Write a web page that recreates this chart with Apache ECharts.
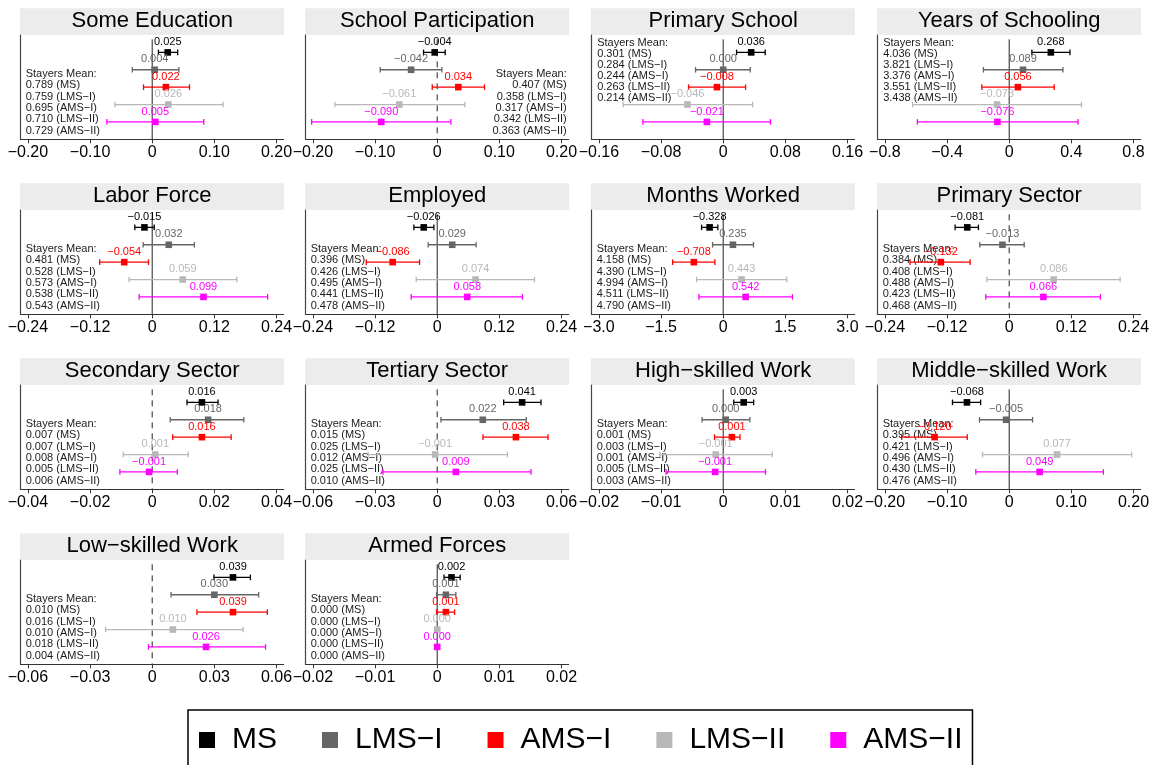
<!DOCTYPE html>
<html>
<head>
<meta charset="utf-8">
<script src="https://cdn.jsdelivr.net/npm/echarts@6/dist/echarts.min.js"></script>
<style>
html,body{margin:0;padding:0;background:#fff;}
#chart{width:1156px;height:765px;}
</style>
</head>
<body>
<div id="chart"></div>
<script>
// ---------------- DATA ----------------
const panelTitles = ['Some Education','School Participation','Primary School','Years of Schooling',
  'Labor Force','Employed','Months Worked','Primary Sector',
  'Secondary Sector','Tertiary Sector','High\u2212skilled Work','Middle\u2212skilled Work',
  'Low\u2212skilled Work','Armed Forces'];
const groups = ['MS','LMS\u2212I','AMS\u2212I','LMS\u2212II','AMS\u2212II'];

const estimates = [
  [0.025, 0.004, 0.022, 0.026, 0.005],
  [-0.004, -0.042, 0.034, -0.061, -0.090],
  [0.036, 0.000, -0.008, -0.046, -0.021],
  [0.268, 0.089, 0.056, -0.078, -0.076],
  [-0.015, 0.032, -0.054, 0.059, 0.099],
  [-0.026, 0.029, -0.086, 0.074, 0.058],
  [-0.328, 0.235, -0.708, 0.443, 0.542],
  [-0.081, -0.013, -0.132, 0.086, 0.066],
  [0.016, 0.018, 0.016, 0.001, -0.001],
  [0.041, 0.022, 0.038, -0.001, 0.009],
  [0.0033, 0.0004, 0.0014, -0.0012, -0.0013],
  [-0.068, -0.005, -0.120, 0.077, 0.049],
  [0.039, 0.030, 0.039, 0.010, 0.026],
  [0.0023, 0.0014, 0.0014, 0.0000, 0.0000]
];
const ciLower = [
  [0.010, -0.032, -0.014, -0.060, -0.073],
  [-0.022, -0.0917, -0.008, -0.1646, -0.202],
  [0.0172, -0.0356, -0.0446, -0.1288, -0.1034],
  [0.146, -0.166, -0.176, -0.622, -0.591],
  [-0.0336, -0.0174, -0.1014, -0.0446, -0.0252],
  [-0.045, -0.0174, -0.137, -0.0405, -0.0502],
  [-0.522, -0.257, -1.221, -0.643, -0.586],
  [-0.1045, -0.0568, -0.1916, -0.0432, -0.0452],
  [0.0112, 0.0058, 0.0066, -0.0093, -0.0104],
  [0.0321, 0.0018, 0.0221, -0.0333, -0.0262],
  [0.0017, -0.0034, -0.0014, -0.0102, -0.0092],
  [-0.0913, -0.0478, -0.1731, -0.043, -0.0537],
  [0.0298, 0.0091, 0.0216, -0.0225, -0.0018],
  [0.0011, -0.0001, -0.0001, -0.0002, -0.0002]
];
const ciUpper = [
  [0.041, 0.043, 0.060, 0.114, 0.083],
  [0.0129, 0.0075, 0.0761, 0.0445, 0.022],
  [0.0541, 0.0348, 0.0288, 0.0378, 0.0609],
  [0.391, 0.346, 0.290, 0.465, 0.443],
  [0.0039, 0.0814, -0.0071, 0.1634, 0.2229],
  [-0.0064, 0.0752, -0.0341, 0.1878, 0.1646],
  [-0.129, 0.731, -0.201, 1.534, 1.671],
  [-0.0594, 0.029, -0.0755, 0.2142, 0.1761],
  [0.0212, 0.0295, 0.0254, 0.0116, 0.0081],
  [0.0501, 0.043, 0.0535, 0.0339, 0.0453],
  [0.0049, 0.0043, 0.0027, 0.0079, 0.0068],
  [-0.046, 0.0376, -0.0675, 0.197, 0.1516],
  [0.0474, 0.0514, 0.0556, 0.0439, 0.0547],
  [0.0037, 0.0030, 0.0028, 0.0002, 0.0002]
];
const stayersMeans = [
  [0.789, 0.759, 0.695, 0.710, 0.729],
  [0.407, 0.358, 0.317, 0.342, 0.363],
  [0.301, 0.284, 0.244, 0.263, 0.214],
  [4.036, 3.821, 3.376, 3.551, 3.438],
  [0.481, 0.528, 0.573, 0.538, 0.543],
  [0.396, 0.426, 0.495, 0.441, 0.478],
  [4.158, 4.390, 4.994, 4.511, 4.790],
  [0.384, 0.408, 0.488, 0.423, 0.468],
  [0.007, 0.007, 0.008, 0.005, 0.006],
  [0.015, 0.025, 0.012, 0.025, 0.010],
  [0.001, 0.003, 0.001, 0.005, 0.003],
  [0.395, 0.421, 0.496, 0.430, 0.476],
  [0.010, 0.016, 0.010, 0.018, 0.004],
  [0.000, 0.000, 0.000, 0.000, 0.000]
];
const axisLimits = [0.20, 0.20, 0.16, 0.8, 0.24, 0.24, 3.0, 0.24, 0.04, 0.06, 0.02, 0.20, 0.06, 0.02];
const tickLabels = [
  ['\u22120.20','\u22120.10','0','0.10','0.20'],
  ['\u22120.20','\u22120.10','0','0.10','0.20'],
  ['\u22120.16','\u22120.08','0','0.08','0.16'],
  ['\u22120.8','\u22120.4','0','0.4','0.8'],
  ['\u22120.24','\u22120.12','0','0.12','0.24'],
  ['\u22120.24','\u22120.12','0','0.12','0.24'],
  ['\u22123.0','\u22121.5','0','1.5','3.0'],
  ['\u22120.24','\u22120.12','0','0.12','0.24'],
  ['\u22120.04','\u22120.02','0','0.02','0.04'],
  ['\u22120.06','\u22120.03','0','0.03','0.06'],
  ['\u22120.02','\u22120.01','0','0.01','0.02'],
  ['\u22120.20','\u22120.10','0','0.10','0.20'],
  ['\u22120.06','\u22120.03','0','0.03','0.06'],
  ['\u22120.02','\u22120.01','0','0.01','0.02']
];

// ---------------- STYLE / LAYOUT ----------------
const FONT = '"Liberation Sans", Arial, Helvetica, sans-serif';
const colors = ['#000000', '#666666', '#ff0000', '#b8b8b8', '#ff00ff'];
const stayersPos = ['lowLeft','right','topLeft','topLeft','lowLeft','lowLeft','lowLeft','lowLeft',
  'lowLeft','lowLeft','lowLeft','lowLeft','lowLeft','lowLeft'];
const dashedZero = [false,true,false,false,false,false,false,true,true,true,false,false,true,false];
const colLeft = [20.7, 305.7, 591.7, 877.7];
const rowTop = [0, 175, 350, 525];
const PW = 263, PH = 104.3, EXP = 1.058;

function fmt(v){ return (v < 0 ? '\u2212' : '') + Math.abs(v).toFixed(3); }

const grids = [], xAxes = [], yAxes = [], series = [], graphics = [];

panelTitles.forEach((title, i) => {
  const c = i % 4, r = Math.floor(i / 4);
  const left = colLeft[c], top = rowTop[r] + 35;
  const L = axisLimits[i];
  const ticks = [-L, -L/2, 0, L/2, L];
  const labs = tickLabels[i];
  grids.push({left: left, top: top, width: PW, height: PH, containLabel: false});
  xAxes.push({
    gridIndex: i, type: 'value', min: -L*EXP, max: L*EXP,
    axisLine: {show: true, onZero: false, lineStyle: {color: '#333', width: 1}},
    splitLine: {show: false},
    axisTick: {show: true, length: 4, customValues: ticks, lineStyle: {color: '#333'}},
    axisLabel: {show: true, customValues: ticks, margin: 5, fontSize: 16, fontFamily: FONT, color: '#000',
      formatter: function(v){
        let k = 0, best = Infinity;
        ticks.forEach((t, j) => { const d = Math.abs(t - v); if (d < best) { best = d; k = j; } });
        return labs[k];
      }}
  });
  yAxes.push({
    gridIndex: i, type: 'value', min: 0, max: 6, inverse: true,
    axisLine: {show: true, onZero: false, lineStyle: {color: '#444', width: 1.2}},
    axisTick: {show: false}, axisLabel: {show: false}, splitLine: {show: false}
  });
  // zero reference line
  series.push({
    type: 'line', xAxisIndex: i, yAxisIndex: i, data: [[0, 0.25], [0, 6]],
    symbol: 'none', silent: true, z: 1,
    lineStyle: {color: '#222', width: 1, type: dashedZero[i] ? [6, 5] : 'solid'}
  });
  groups.forEach((g, gi) => {
    const col = colors[gi];
    series.push({
      type: 'custom', name: g, xAxisIndex: i, yAxisIndex: i, z: 3 + gi,
      itemStyle: {color: col}, clip: false,
      encode: {x: [0, 1, 2], y: 3},
      data: [[estimates[i][gi], ciLower[i][gi], ciUpper[i][gi], gi + 1]],
      renderItem: function(params, api){
        const est = api.value(0), lo = api.value(1), hi = api.value(2), row = api.value(3);
        const p = api.coord([est, row]), a = api.coord([lo, row]), b = api.coord([hi, row]);
        const y = p[1];
        const lw = 1.3;
        return {type: 'group', children: [
          {type: 'line', shape: {x1: a[0], y1: y, x2: b[0], y2: y}, style: {stroke: col, lineWidth: lw}},
          {type: 'line', shape: {x1: a[0], y1: y - 2.8, x2: a[0], y2: y + 2.8}, style: {stroke: col, lineWidth: lw}},
          {type: 'line', shape: {x1: b[0], y1: y - 2.8, x2: b[0], y2: y + 2.8}, style: {stroke: col, lineWidth: lw}},
          {type: 'rect', shape: {x: p[0] - 3.3, y: y - 3.3, width: 6.6, height: 6.6}, style: {fill: col}},
          {type: 'text', x: p[0], y: y - 10.3, style: {text: fmt(est), fill: col, font: '11px ' + FONT,
            align: 'center', verticalAlign: 'middle'}}
        ]};
      }
    });
  });
  // strip + title
  graphics.push({type: 'rect', z: 0, silent: true, shape: {x: left - 0.7, y: rowTop[r] + 8.3, width: PW + 1, height: 26.7},
    style: {fill: '#ececec'}});
  graphics.push({type: 'text', z: 1, silent: true, x: left + PW/2, y: rowTop[r] + 21,
    style: {text: title, font: '22px ' + FONT, fill: '#000', align: 'center', verticalAlign: 'middle'}});
  // stayers mean block
  const lines = ['Stayers Mean:'].concat(stayersMeans[i].map((m, gi) => m.toFixed(3) + ' (' + groups[gi] + ')'));
  const mode = stayersPos[i];
  let tx, ty, lh, al;
  if (mode === 'topLeft') { tx = left + 5.5; ty = top + 7.7 - 5.5; lh = 11.07; al = 'left'; }
  else if (mode === 'right') { tx = left + 261; ty = top + 39 - 5.67; lh = 11.33; al = 'right'; }
  else { tx = left + 5; ty = top + 39 - 5.67; lh = 11.33; al = 'left'; }
  graphics.push({type: 'text', z: 1, silent: true, x: tx, y: ty,
    style: {text: lines.join('\n'), font: '11px ' + FONT, fill: '#1a1a1a', align: al, verticalAlign: 'top', lineHeight: lh}});
});

const chart = echarts.init(document.getElementById('chart'), null, {renderer: 'canvas'});
chart.setOption({
  animation: false,
  backgroundColor: '#ffffff',
  grid: grids, xAxis: xAxes, yAxis: yAxes, series: series,
  graphic: {elements: graphics},
  legend: {
    data: groups.map((g, gi) => ({name: g, icon: 'rect', itemStyle: {color: colors[gi]}})),
    left: 188, top: 710, orient: 'horizontal',
    itemWidth: 16, itemHeight: 16, itemGap: 45,
    textStyle: {fontSize: 30, fontFamily: FONT, color: '#000', padding: [0, 0, 0, 12]},
    borderColor: '#000', borderWidth: 1.5, borderRadius: 0, padding: [15, 10, 22, 11],
    selectedMode: false
  }
});
</script>
</body>
</html>
